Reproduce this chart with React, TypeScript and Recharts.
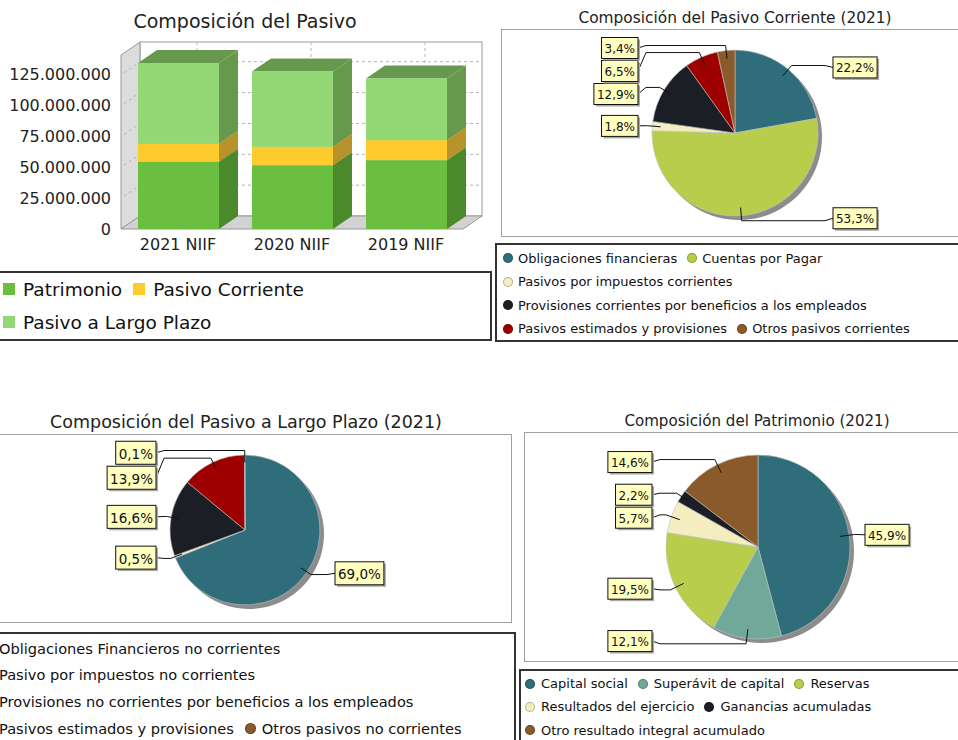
import React from 'react';
import {
  BarChart,
  Bar,
  XAxis,
  YAxis,
  ReferenceArea,
  ReferenceLine,
  PieChart,
  Pie,
  Cell,
} from 'recharts';

// ---- Composición del Pasivo (stacked 3D bars)
const years = ['2021 NIIF', '2020 NIIF', '2019 NIIF'];
const patrimonio = [54400000, 51700000, 55800000];
const pasivoCorriente = [14600000, 14900000, 16200000];
const pasivoLargoPlazo = [65500000, 61100000, 50000000];
const yTicks = [0, 25000000, 50000000, 75000000, 100000000, 125000000];
const yMax = 141000000;
const barNames = ['Patrimonio', 'Pasivo Corriente', 'Pasivo a Largo Plazo'];

// ---- Composición del Pasivo Corriente (2021)
const corrienteNames = [
  'Obligaciones financieras',
  'Cuentas por Pagar',
  'Pasivos por impuestos corrientes',
  'Provisiones corrientes por beneficios a los empleados',
  'Pasivos estimados y provisiones',
  'Otros pasivos corrientes',
];
const corrienteValues = [22.2, 53.3, 1.8, 12.9, 6.5, 3.4];

// ---- Composición del Pasivo a Largo Plazo (2021)
const largoNames = [
  'Obligaciones Financieros no corrientes',
  'Pasivo por impuestos no corrientes',
  'Provisiones no corrientes por beneficios a los empleados',
  'Pasivos estimados y provisiones',
  'Otros pasivos no corrientes',
];
const largoValues = [69.0, 0.5, 16.6, 13.9, 0.1];

// ---- Composición del Patrimonio (2021)
const patrimonioNames = [
  'Capital social',
  'Superávit de capital',
  'Reservas',
  'Resultados del ejercicio',
  'Ganancias acumuladas',
  'Otro resultado integral acumulado',
];
const patrimonioValues = [45.9, 12.1, 19.5, 5.7, 2.2, 14.6];

// colours
const TEAL = '#2e6d79';
const OLIVE = '#b8cd4b';
const CREAM = '#f3edc0';
const DARK = '#1c1e26';
const RED = '#9e0000';
const BROWN = '#8b5a2b';
const SAGE = '#70a899';

const barFront = ['#6abf40', '#fecb2e', '#93d874'];
const barSide = ['#4a892c', '#b8922a', '#66994d'];
const barTop = ['#58a236', '#d9ad2a', '#66994d'];
const corrienteColors = [TEAL, OLIVE, CREAM, DARK, RED, BROWN];
const largoColors = [TEAL, CREAM, DARK, RED, BROWN];
const patrimonioColors = [TEAL, SAGE, OLIVE, CREAM, DARK, BROWN];

const DX = 19;
const DY = 13;

const fmtNum = (v: number) => String(v).replace(/\B(?=(\d{3})+(?!\d))/g, '.');
const fmtPct = (v: number) => v.toFixed(1).replace('.', ',') + '%';

function Box3D(props: any) {
  const { x, y, width, height, front, side, top } = props;
  if (!height || height <= 0) return null;
  const r = x + width;
  const b = y + height;
  return (
    <g>
      <polygon points={`${r},${y} ${r + DX},${y - DY} ${r + DX},${b - DY} ${r},${b}`} fill={side} />
      <polygon points={`${x},${y} ${x + DX},${y - DY} ${r + DX},${y - DY} ${r},${y}`} fill={top} />
      <rect x={x} y={y} width={width} height={height} fill={front} />
    </g>
  );
}

function Walls(props: any) {
  const { x, y, width, height } = props;
  const b = y + height;
  const r = x + width;
  return (
    <g>
      <rect x={x + DX} y={y - DY} width={width} height={height} fill="#fff" stroke="#999" />
      <polygon points={`${x},${y} ${x + DX},${y - DY} ${x + DX},${b - DY} ${x},${b}`} fill="#dcdcdc" stroke="#999" />
      <polygon points={`${x},${b} ${x + DX},${b - DY} ${r + DX},${b - DY} ${r},${b}`} fill="#d2d2d2" stroke="#999" />
    </g>
  );
}

function GridH(props: any) {
  const { x1, x2, y1 } = props;
  const l = Math.min(x1, x2);
  const r = Math.max(x1, x2);
  return (
    <g stroke="#b4b4b4" strokeDasharray="3 3" fill="none">
      <line x1={l + 3} y1={y1 - 2} x2={l + DX} y2={y1 - DY} />
      <line x1={l + DX} y1={y1 - DY} x2={r + DX} y2={y1 - DY} />
    </g>
  );
}

function GridV(props: any) {
  const { x1, y1, y2 } = props;
  return (
    <line x1={x1 + DX} y1={Math.min(y1, y2) - DY} x2={x1 + DX} y2={Math.max(y1, y2) - DY}
      stroke="#b4b4b4" strokeDasharray="3 3" />
  );
}

function PasivoBars() {
  const data = years.map((year, i) => ({
    year,
    patrimonio: patrimonio[i],
    corriente: pasivoCorriente[i],
    largo: pasivoLargoPlazo[i],
  }));
  const keys = ['patrimonio', 'corriente', 'largo'];
  return (
    <BarChart width={500} height={262} data={data} margin={{ top: 55, right: 37, bottom: 3, left: 0 }}>
      <ReferenceArea y1={0} y2={yMax} ifOverflow="visible" shape={(p: any) => <Walls {...p} />} zIndex={-95} />
      {yTicks.slice(1).map((t) => (
        <ReferenceLine key={t} y={t} ifOverflow="visible" shape={(p: any) => <GridH {...p} />} zIndex={-90} />
      ))}
      {years.map((yr) => (
        <ReferenceLine key={yr} x={yr} ifOverflow="visible" shape={(p: any) => <GridV {...p} />} zIndex={-90} />
      ))}
      <XAxis dataKey="year" height={30} axisLine={false} tickLine={false} tickSize={0} tickMargin={10}
        tick={{ fontSize: 16, fill: '#222' }} />
      <YAxis domain={[0, yMax]} ticks={yTicks} tickFormatter={fmtNum} width={121} axisLine={false}
        tickLine={false} tickSize={0} tickMargin={10} tick={{ fontSize: 16, fill: '#222' }} />
      {keys.map((k, i) => (
        <Bar key={k} dataKey={k} stackId="s" barSize={81} isAnimationActive={false}
          shape={(p: any) => <Box3D {...p} front={barFront[i]} side={barSide[i]} top={barTop[i]} />} />
      ))}
    </BarChart>
  );
}

// ---- pie labels (JFreeChart-like boxes with leader lines)
const charW: Record<string, number> = { ',': 0.318, '%': 0.95 };
function textW(s: string, fs: number) {
  let w = 0;
  for (const ch of s) w += charW[ch] ?? 0.636;
  return w * fs;
}

function layoutLabels(values: number[], cx: number, cy: number, r: number, fs: number, boxH: number) {
  const total = values.reduce((a, b) => a + b, 0);
  let cum = 0;
  const items = values.map((v, i) => {
    const a = ((cum + v / 2) / total) * Math.PI * 2;
    cum += v;
    const sx = Math.sin(a);
    const sy = -Math.cos(a);
    const text = fmtPct(v);
    return { i, sx, sy, right: sx >= 0, y: cy + sy * r * 1.03, text, w: textW(text, fs) + 6 };
  });
  [true, false].forEach((side) => {
    const list = items.filter((it) => it.right === side).sort((a, b) => a.y - b.y);
    for (let k = 1; k < list.length; k++) {
      const minY = list[k - 1].y + boxH + 2;
      if (list[k].y < minY) list[k].y = minY;
    }
  });
  return items;
}

function makeLabel(values: number[], fs: number, boxH: number) {
  return (props: any) => {
    const { cx, cy, outerRadius: r, index } = props;
    const it = layoutLabels(values, cx, cy, r, fs, boxH)[index];
    const ax = cx + it.sx * r * 0.9;
    const ay = cy + it.sy * r * 0.9;
    const ex = cx + it.sx * r * 1.06;
    const ey = cy + it.sy * r * 1.06;
    const boxX = it.right ? cx + r + 15 : cx - r - 14 - it.w;
    const edge = it.right ? boxX : boxX + it.w;
    const stubX = it.right ? edge - 8 : edge + 8;
    const pts: number[][] = [[ax, ay], [ex, ey]];
    if (it.right ? ex < stubX : ex > stubX) pts.push([stubX, ey]);
    pts.push([edge, it.y]);
    return (
      <g key={`lbl-${index}`}>
        <polyline points={pts.map((p) => p.join(',')).join(' ')} fill="none" stroke="#111" strokeWidth={1} />
        <rect x={boxX + 2} y={it.y - boxH / 2 + 2} width={it.w} height={boxH} fill="#a8a8a8" />
        <rect x={boxX} y={it.y - boxH / 2} width={it.w} height={boxH} fill="#ffffc0" stroke="#111" strokeWidth={1} />
        <text x={boxX + it.w / 2} y={it.y + 1} textAnchor="middle" dominantBaseline="central"
          fontSize={fs} fill="#111">
          {it.text}
        </text>
      </g>
    );
  };
}

function PiePanel({ left, top, width, height, cx, cy, r, names, values, colors, fs, boxH }: any) {
  const data = names.map((name: string, i: number) => ({ name, value: values[i] }));
  return (
    <div style={{ position: 'absolute', left, top, width, height, border: '1px solid #a0a0a0', boxSizing: 'border-box', background: '#fff' }}>
      <div style={{ position: 'absolute', left: -1, top: -1 }}>
        <PieChart width={width} height={height} margin={{ top: 0, right: 0, bottom: 0, left: 0 }}>
          <Pie data={[{ name: 'shadow', value: 1 }]} dataKey="value" cx={cx + 4} cy={cy + 4} outerRadius={r}
            startAngle={90} endAngle={-270} fill="#8c8c8c" stroke="none" isAnimationActive={false} />
          <Pie data={data} dataKey="value" nameKey="name" cx={cx} cy={cy} outerRadius={r} startAngle={90}
            endAngle={-270} stroke="#c4c4c4" strokeWidth={0.6} labelLine={false}
            label={makeLabel(values, fs, boxH)} isAnimationActive={false}>
            {data.map((d: any, i: number) => (
              <Cell key={d.name} fill={colors[i]} />
            ))}
          </Pie>
        </PieChart>
      </div>
    </div>
  );
}

function LegendBox({ left, top, width, height, rows, names, colors, fontSize, rowStep, firstY, padX,
  square, markerSize, markerGap, itemGap }: any) {
  return (
    <div style={{ position: 'absolute', left, top, width, height, border: '2px solid #333', boxSizing: 'border-box', background: '#fff' }}>
      {rows.map((row: number[], ri: number) => (
        <div key={ri} style={{ position: 'absolute', left: padX, top: firstY + ri * rowStep - 12, height: 24,
          display: 'flex', alignItems: 'center', whiteSpace: 'nowrap', fontSize, color: '#111' }}>
          {row.map((idx, k) => (
            <span key={idx} style={{ display: 'flex', alignItems: 'center', marginLeft: k ? itemGap : 0 }}>
              <span style={{ display: 'inline-block', width: markerSize, height: markerSize, marginRight: markerGap,
                borderRadius: square ? 0 : '50%', background: colors[idx],
                boxShadow: square ? 'none' : 'inset 0 0 0 1px rgba(0,0,0,0.25)' }} />
              <span>{names[idx]}</span>
            </span>
          ))}
        </div>
      ))}
    </div>
  );
}

function Title({ text, cx, cy, fontSize }: any) {
  return (
    <div style={{ position: 'absolute', left: cx - 300, width: 600, top: cy - 15, height: 30, lineHeight: '30px',
      textAlign: 'center', fontSize, color: '#222', whiteSpace: 'nowrap' }}>
      {text}
    </div>
  );
}

export default function App() {
  return (
    <div style={{ position: 'absolute', left: 0, top: 0, width: 958, height: 740, overflow: 'hidden',
      background: '#fff', fontFamily: '"DejaVu Sans", sans-serif' }}>
      {/* bar chart */}
      <Title text="Composición del Pasivo" cx={245} cy={21} fontSize={19} />
      <div style={{ position: 'absolute', left: 0, top: 0 }}>
        <PasivoBars />
      </div>
      <LegendBox left={-10} top={271} width={502} height={70} rows={[[0, 1], [2]]} names={barNames}
        colors={barFront} fontSize={18.5} rowStep={33} firstY={16} padX={11} square markerSize={12}
        markerGap={8} itemGap={11} />

      {/* pasivo corriente */}
      <Title text="Composición del Pasivo Corriente (2021)" cx={735} cy={18} fontSize={15.4} />
      <PiePanel left={501} top={29} width={470} height={208} cx={234} cy={104} r={83}
        names={corrienteNames} values={corrienteValues} colors={corrienteColors} fs={12} boxH={21} />
      <LegendBox left={495} top={243} width={480} height={99} rows={[[0, 1], [2], [3], [4, 5]]}
        names={corrienteNames} colors={corrienteColors} fontSize={13} rowStep={23.5} firstY={13} padX={6}
        markerSize={10} markerGap={5} itemGap={10} />

      {/* pasivo a largo plazo */}
      <Title text="Composición del Pasivo a Largo Plazo (2021)" cx={246} cy={422} fontSize={17.5} />
      <PiePanel left={-20} top={434} width={532} height={189} cx={265} cy={96} r={75}
        names={largoNames} values={largoValues} colors={largoColors} fs={13.5} boxH={23} />
      <LegendBox left={-40} top={632} width={556} height={130} rows={[[0], [1], [2], [3, 4]]}
        names={largoNames} colors={largoColors} fontSize={14.6} rowStep={26.7} firstY={14} padX={20}
        markerSize={11} markerGap={6} itemGap={11} />

      {/* patrimonio */}
      <Title text="Composición del Patrimonio (2021)" cx={757} cy={421} fontSize={15.1} />
      <PiePanel left={524} top={432} width={450} height={230} cx={234} cy={115} r={92}
        names={patrimonioNames} values={patrimonioValues} colors={patrimonioColors} fs={12} boxH={21} />
      <LegendBox left={519} top={669} width={460} height={90} rows={[[0, 1, 2], [3, 4], [5]]}
        names={patrimonioNames} colors={patrimonioColors} fontSize={13} rowStep={23.3} firstY={12.5} padX={4}
        markerSize={10} markerGap={6} itemGap={10} />
    </div>
  );
}
